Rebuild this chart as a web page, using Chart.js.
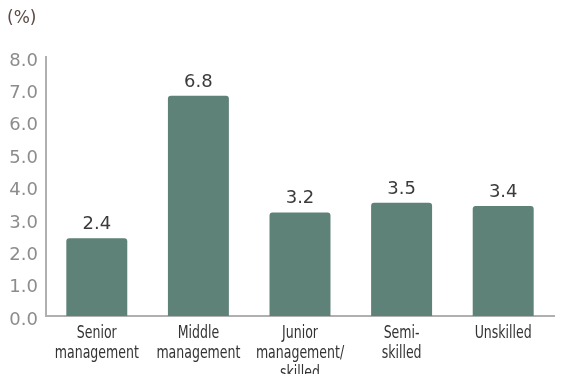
<!DOCTYPE html>
<html>
<head>
<meta charset="utf-8">
<script src="https://cdn.jsdelivr.net/npm/chart.js@4"></script>
<style>
  html, body { margin: 0; padding: 0; background: #fff; }
</style>
</head>
<body>
<canvas id="myChart" width="570" height="374"></canvas>
<script>
// categories (multi-line labels) and rates in %
const categories = [
  ['Senior', 'management'],
  ['Middle', 'management'],
  ['Junior', 'management/', 'skilled'],
  ['Semi-', 'skilled'],
  ['Unskilled']
];
const rates = [2.4, 6.8, 3.2, 3.5, 3.4];
const yMin = 0;
const yMax = 8;
const yStep = 1;
const unitLabel = '(%)';

const barColor = '#5e8178';
const axisColor = '#b0b0b0';

// value printed above each bar
const barValueLabels = {
  id: 'barValueLabels',
  afterDatasetsDraw(chart) {
    const ctx = chart.ctx;
    const meta = chart.getDatasetMeta(0);
    ctx.save();
    ctx.font = '18px "DejaVu Sans"';
    ctx.fillStyle = '#3b3b3b';
    ctx.textAlign = 'center';
    ctx.textBaseline = 'alphabetic';
    meta.data.forEach(function (bar, i) {
      ctx.fillText(rates[i].toFixed(1), bar.x, bar.y - 9);
    });
    ctx.restore();
  }
};

// category names under the x axis, in a narrow face (condensed horizontally)
const narrowCategoryLabels = {
  id: 'narrowCategoryLabels',
  afterDraw(chart) {
    const ctx = chart.ctx;
    const xs = chart.scales.x;
    ctx.save();
    ctx.font = '17px "DejaVu Sans Condensed", "DejaVu Sans", sans-serif';
    ctx.fillStyle = '#333333';
    ctx.textAlign = 'center';
    ctx.textBaseline = 'alphabetic';
    categories.forEach(function (lines, i) {
      const x = xs.getPixelForValue(i);
      lines.forEach(function (line, j) {
        ctx.save();
        ctx.translate(x, xs.top + 22 + j * 20);
        ctx.scale(0.82, 1);
        ctx.fillText(line, 0, 0);
        ctx.restore();
      });
    });
    ctx.restore();
  }
};

// unit caption in the top left corner
const unitCaption = {
  id: 'unitCaption',
  afterDraw(chart) {
    const ctx = chart.ctx;
    ctx.save();
    ctx.font = '17px "DejaVu Sans"';
    ctx.fillStyle = '#5b4b47';
    ctx.textAlign = 'left';
    ctx.textBaseline = 'alphabetic';
    ctx.fillText(unitLabel, 7, 23);
    ctx.restore();
  }
};

const data = {
  labels: categories.map(function (c) { return c.join(' '); }),
  datasets: [{
    label: 'Rate',
    data: rates,
    backgroundColor: barColor,
    borderWidth: 0,
    borderRadius: 3,
    borderSkipped: 'start',
    barPercentage: 0.6,
    categoryPercentage: 1.0
  }]
};

const config = {
  type: 'bar',
  data: data,
  options: {
    responsive: false,
    devicePixelRatio: 1,
    animation: false,
    layout: { padding: { top: 57, right: 16, left: 0, bottom: 0 } },
    plugins: {
      legend: { display: false },
      tooltip: { enabled: false }
    },
    scales: {
      x: {
        grid: { display: false },
        border: { display: true, color: axisColor, width: 2 },
        ticks: { display: false },
        afterFit(scale) { scale.height = 58; }
      },
      y: {
        min: yMin,
        max: yMax,
        grid: { display: false },
        border: { display: true, color: axisColor, width: 2 },
        ticks: {
          stepSize: yStep,
          color: '#8c8c8c',
          padding: 0,
          labelOffset: 4,
          font: { family: '"DejaVu Sans", sans-serif', size: 18 },
          callback: function (v) { return Number(v).toFixed(1); }
        },
        afterFit(scale) { scale.width = 46; }
      }
    }
  },
  plugins: [barValueLabels, narrowCategoryLabels, unitCaption]
};

const myChart = new Chart(document.getElementById('myChart'), config);
</script>
</body>
</html>
